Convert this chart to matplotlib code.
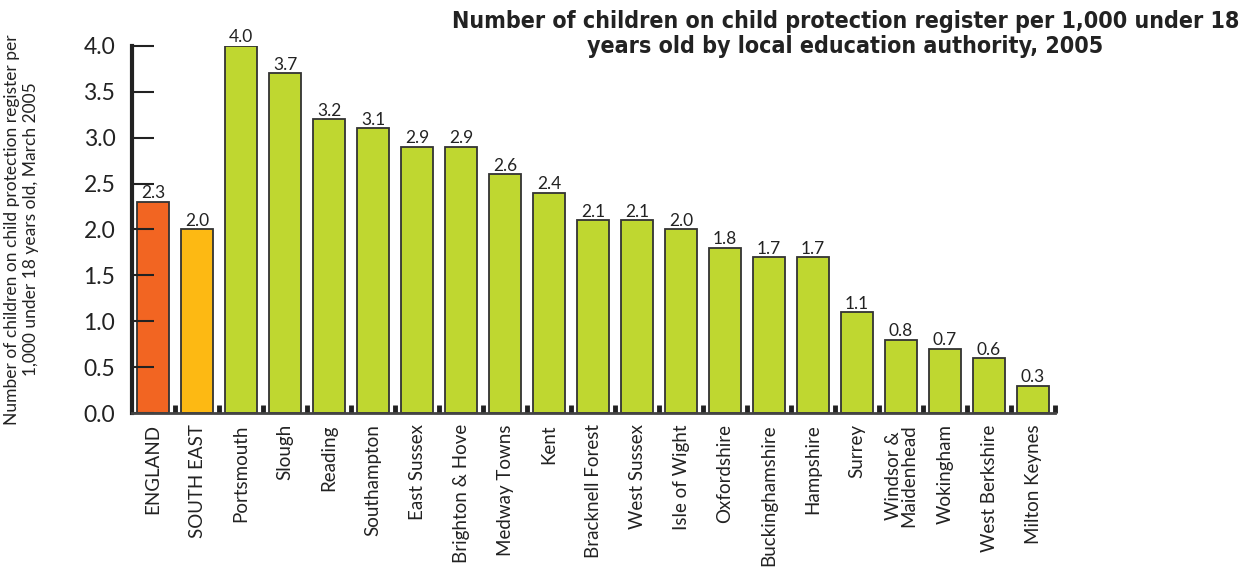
import matplotlib.pyplot as plt
import numpy as np

# --- Data ---
areas = ["ENGLAND", "SOUTH EAST", "Portsmouth", "Slough", "Reading", "Southampton",
         "East Sussex", "Brighton & Hove", "Medway Towns", "Kent", "Bracknell Forest",
         "West Sussex", "Isle of Wight", "Oxfordshire", "Buckinghamshire", "Hampshire",
         "Surrey", "Windsor &\nMaidenhead", "Wokingham", "West Berkshire", "Milton Keynes"]
rates = [2.3, 2.0, 4.0, 3.7, 3.2, 3.1, 2.9, 2.9, 2.6, 2.4, 2.1,
         2.1, 2.0, 1.8, 1.7, 1.7, 1.1, 0.8, 0.7, 0.6, 0.3]
bar_colors = ["#F26522", "#FDB913"] + ["#BFD730"] * (len(areas) - 2)

plt.rcParams['font.family'] = ['Lato', 'DejaVu Sans']

fig = plt.figure(figsize=(12.49, 5.73), dpi=100)
ax = fig.add_axes([0.1057, 0.279, 0.739, 0.641])

x = np.arange(len(areas))
ax.bar(x, rates, width=0.73, color=bar_colors, edgecolor="#333333", linewidth=1.3)

# value labels above each bar
for xi, v in zip(x, rates):
    ax.text(xi, v + 0.005, f"{v:.1f}", ha="center", va="bottom", fontsize=12.5, color="#222222")

ax.set_xlim(-0.48, 20.5)
ax.set_ylim(0, 4.0)
ax.set_yticks(np.arange(0, 4.01, 0.5))
ax.set_yticklabels([f"{t:.1f}" for t in np.arange(0, 4.01, 0.5)], fontsize=16.5, color="#222222")
ax.tick_params(axis="y", direction="in", length=16, width=1.5, color="#222222", pad=12)

# category labels, separator ticks between bars
ax.set_xticks(x)
ax.set_xticklabels(areas, rotation=90, fontsize=13.5, color="#222222", linespacing=0.85)
ax.tick_params(axis="x", length=0, pad=8)
ax.set_xticks(x + 0.5, minor=True)
ax.tick_params(axis="x", which="minor", direction="in", length=6, width=3.5, color="#222222")

for side in ["top", "right"]:
    ax.spines[side].set_visible(False)
ax.spines["left"].set_linewidth(3)
ax.spines["left"].set_color("#222222")
ax.spines["bottom"].set_linewidth(2)
ax.spines["bottom"].set_color("#444444")

ax.set_ylabel("Number of children on child protection register per\n1,000 under 18 years old, March 2005",
              fontsize=12.5, color="#222222", labelpad=32, linespacing=1.2)

fig.text(0.677, 0.94,
         "Number of children on child protection register per 1,000 under 18\nyears old by local education authority, 2005",
         ha="center", va="center", fontsize=16.7, fontweight="bold", color="#222222",
         family="DejaVu Sans", fontstretch="condensed", linespacing=1.1)

plt.savefig("out.png", dpi=100)
